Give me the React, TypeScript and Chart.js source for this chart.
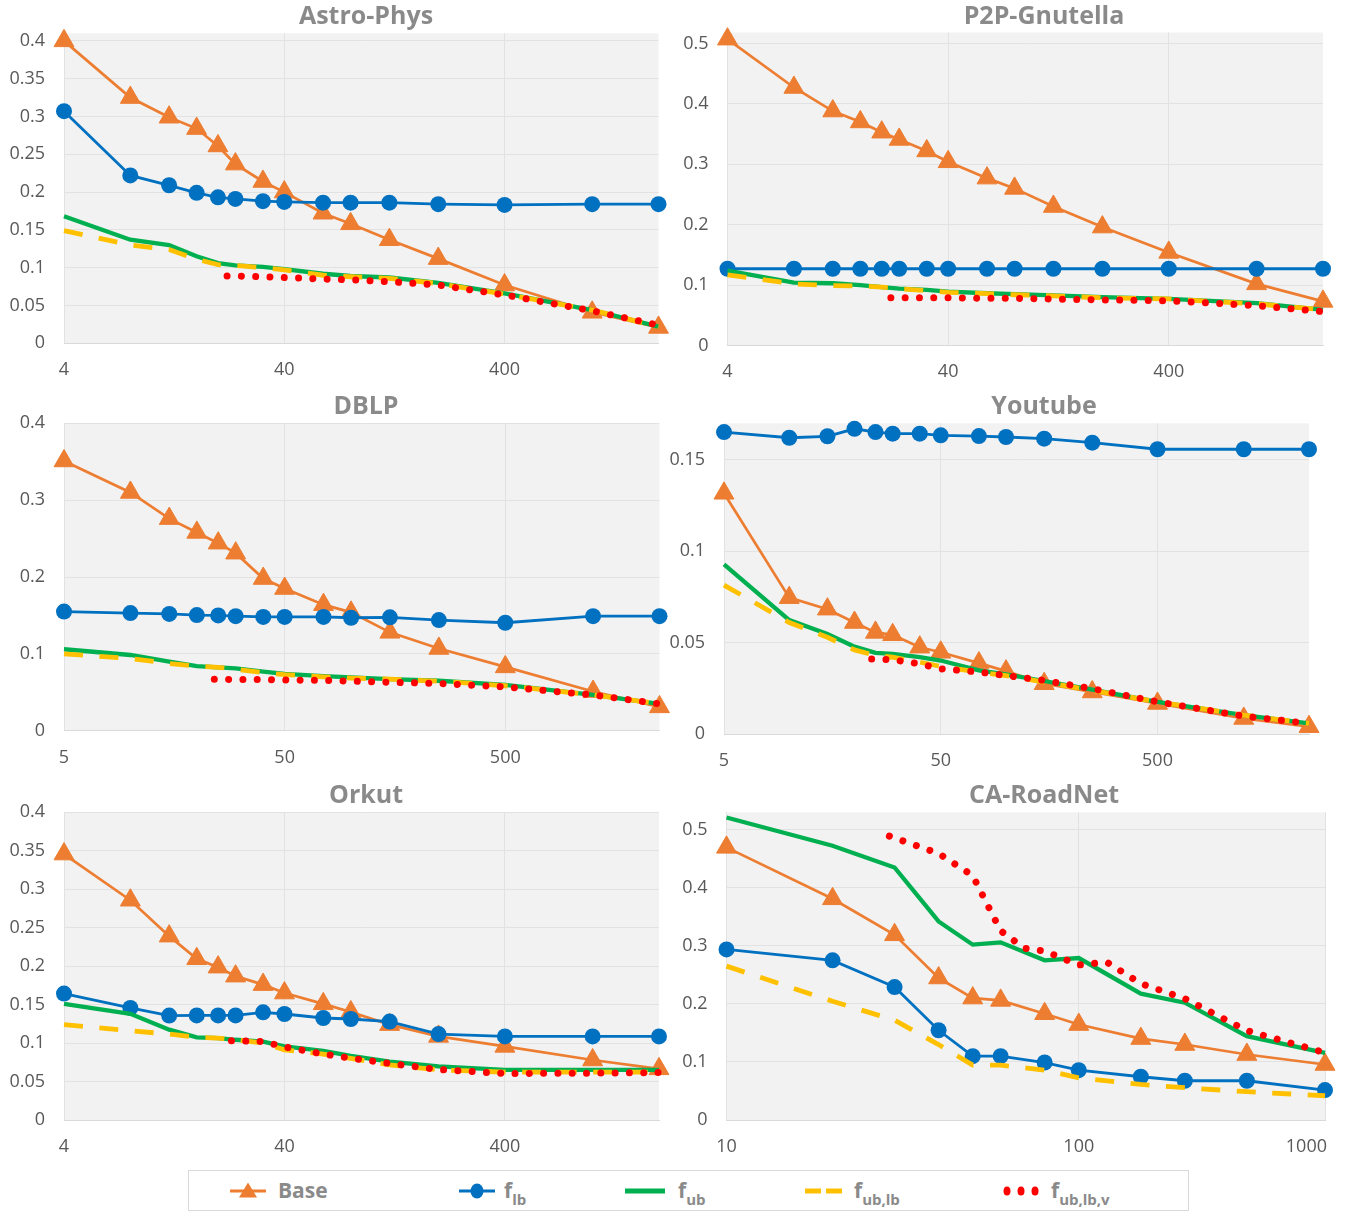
import React, { useEffect, useRef } from "react";
import { Chart, registerables } from "chart.js";

Chart.register(...registerables);

// ---------------- data ----------------
const X4 = [4, 8, 12, 16, 20, 24, 32, 40, 60, 80, 120, 200, 400, 1000, 2000];
const X5 = [5, 10, 15, 20, 25, 30, 40, 50, 75, 100, 150, 250, 500, 1250, 2500];
const X10 = [10, 20, 30, 40, 50, 60, 80, 100, 150, 200, 300, 500];

const X4_TICKS = [4, 40, 400];
const X4_TICK_LABELS = ["4", "40", "400"];
const X5_TICKS = [5, 50, 500];
const X5_TICK_LABELS = ["5", "50", "500"];
const X10_TICKS = [10, 100, 500];
const X10_TICK_LABELS = ["10", "100", "1000"];

const Y_TICKS_A = [0, 0.05, 0.1, 0.15, 0.2, 0.25, 0.3, 0.35, 0.4];
const Y_TICKS_B = [0, 0.1, 0.2, 0.3, 0.4, 0.5];
const Y_TICKS_C = [0, 0.1, 0.2, 0.3, 0.4];
const Y_TICKS_D = [0, 0.05, 0.1, 0.15];

// Astro-Phys
const ASTRO_BASE = [0.4, 0.325, 0.299, 0.284, 0.261, 0.237, 0.214, 0.2, 0.172, 0.158, 0.137, 0.112, 0.077, 0.041, 0.021];
const ASTRO_LB = [0.307, 0.222, 0.209, 0.199, 0.193, 0.191, 0.188, 0.187, 0.186, 0.186, 0.186, 0.184, 0.183, 0.184, 0.184];
const ASTRO_UB = [0.168, 0.137, 0.13, 0.115, 0.106, 0.103, 0.101, 0.098, 0.092, 0.089, 0.087, 0.08, 0.066, 0.044, 0.022];
const ASTRO_UBLB = [0.149, 0.13, 0.124, 0.111, 0.104, 0.103, 0.1, 0.097, 0.09, 0.088, 0.086, 0.079, 0.065, 0.044, 0.022];
const ASTRO_V_X = [22, 24, 32, 40, 60, 80, 120, 200, 400, 1000, 2000];
const ASTRO_V = [0.089, 0.089, 0.088, 0.087, 0.085, 0.084, 0.0815, 0.077, 0.064, 0.043, 0.024];

// P2P-Gnutella
const P2P_BASE = [0.507, 0.427, 0.388, 0.37, 0.353, 0.341, 0.322, 0.304, 0.277, 0.26, 0.23, 0.196, 0.154, 0.102, 0.073];
const P2P_LB = [0.127, 0.127, 0.127, 0.127, 0.127, 0.127, 0.127, 0.127, 0.127, 0.127, 0.127, 0.127, 0.127, 0.127, 0.127];
const P2P_UB = [0.124, 0.104, 0.103, 0.1, 0.0965, 0.094, 0.092, 0.089, 0.0865, 0.085, 0.083, 0.08, 0.077, 0.07, 0.059];
const P2P_UBLB = [0.117, 0.102, 0.099, 0.0985, 0.0965, 0.094, 0.091, 0.088, 0.086, 0.084, 0.082, 0.079, 0.077, 0.069, 0.059];
const P2P_V_X = [22, 24, 32, 40, 60, 80, 120, 200, 400, 1000, 2000];
const P2P_V = [0.079, 0.079, 0.079, 0.079, 0.078, 0.078, 0.077, 0.0755, 0.074, 0.066, 0.056];

// DBLP
const DBLP_BASE = [0.351, 0.31, 0.276, 0.258, 0.244, 0.231, 0.198, 0.185, 0.164, 0.154, 0.128, 0.107, 0.083, 0.051, 0.031];
const DBLP_LB = [0.155, 0.153, 0.152, 0.1505, 0.15, 0.149, 0.148, 0.148, 0.148, 0.147, 0.1475, 0.144, 0.1405, 0.149, 0.149];
const DBLP_UB = [0.106, 0.0985, 0.09, 0.084, 0.0825, 0.081, 0.077, 0.074, 0.071, 0.0695, 0.067, 0.065, 0.0595, 0.0465, 0.035];
const DBLP_UBLB = [0.1, 0.094, 0.0875, 0.084, 0.0825, 0.08, 0.0755, 0.073, 0.07, 0.0685, 0.067, 0.0645, 0.0585, 0.0465, 0.035];
const DBLP_V_X = [24, 25, 30, 40, 50, 75, 100, 150, 250, 500, 1250, 2500];
const DBLP_V = [0.0668, 0.0668, 0.0667, 0.0665, 0.066, 0.0655, 0.0645, 0.063, 0.0615, 0.057, 0.0465, 0.035];

// Youtube
const YT_BASE = [0.1317, 0.0746, 0.0683, 0.061, 0.0556, 0.0543, 0.0475, 0.0447, 0.0388, 0.0344, 0.0275, 0.023, 0.0167, 0.0085, 0.004];
const YT_LB = [0.1652, 0.1621, 0.1629, 0.167, 0.1652, 0.1643, 0.1643, 0.1634, 0.163, 0.1625, 0.1616, 0.1594, 0.1558, 0.1558, 0.1558];
const YT_UB = [0.0928, 0.0623, 0.0547, 0.0478, 0.0444, 0.0438, 0.042, 0.0402, 0.0348, 0.0326, 0.029, 0.0243, 0.0176, 0.0103, 0.0058];
const YT_UBLB = [0.0815, 0.061, 0.0529, 0.046, 0.043, 0.042, 0.0393, 0.037, 0.0339, 0.0319, 0.0284, 0.0239, 0.0176, 0.0103, 0.0058];
const YT_V_X = [24, 25, 30, 40, 50, 75, 100, 150, 250, 500, 1250, 2500];
const YT_V = [0.0411, 0.0411, 0.0406, 0.0384, 0.0357, 0.0339, 0.032, 0.0293, 0.0248, 0.0176, 0.0098, 0.0058];

// Orkut
const ORKUT_BASE = [0.3457, 0.2857, 0.239, 0.2096, 0.1987, 0.187, 0.176, 0.165, 0.151, 0.1404, 0.124, 0.1087, 0.0957, 0.078, 0.0665];
const ORKUT_LB = [0.1643, 0.1457, 0.1357, 0.136, 0.136, 0.136, 0.14, 0.1378, 0.1326, 0.1313, 0.128, 0.1117, 0.1087, 0.1087, 0.1087];
const ORKUT_UB = [0.151, 0.138, 0.1174, 0.1074, 0.1065, 0.1043, 0.102, 0.0957, 0.09, 0.0835, 0.076, 0.0696, 0.0652, 0.0652, 0.0652];
const ORKUT_UBLB = [0.124, 0.116, 0.1117, 0.1074, 0.1065, 0.1043, 0.1, 0.0913, 0.0857, 0.08, 0.0717, 0.0652, 0.0622, 0.0622, 0.0622];
const ORKUT_V_X = [23, 24, 32, 40, 60, 80, 120, 200, 400, 1000, 2000];
const ORKUT_V = [0.103, 0.103, 0.102, 0.095, 0.0857, 0.0804, 0.0735, 0.0656, 0.0604, 0.0609, 0.0617];

// CA-RoadNet
const CA_BASE = [0.4696, 0.381, 0.319, 0.2446, 0.21, 0.206, 0.183, 0.1644, 0.1403, 0.13, 0.1128, 0.0956];
const CA_LB = [0.2938, 0.275, 0.229, 0.1546, 0.11, 0.11, 0.099, 0.0859, 0.0745, 0.0676, 0.0676, 0.0515];
const CA_UB = [0.521, 0.4725, 0.435, 0.342, 0.302, 0.306, 0.275, 0.279, 0.2176, 0.202, 0.1443, 0.1157];
const CA_UBLB = [0.265, 0.2045, 0.172, 0.13, 0.0945, 0.0945, 0.0859, 0.0727, 0.0613, 0.0556, 0.0487, 0.0418];
const CA_V_X = [29, 40, 50, 60, 70, 80, 100, 120, 150, 200, 300, 500];
const CA_V = [0.489, 0.459, 0.421, 0.326, 0.296, 0.291, 0.267, 0.272, 0.235, 0.209, 0.154, 0.116];

// ---------------- styles ----------------
const ORANGE = "#ed7d31";
const BLUE = "#0070c0";
const GREEN = "#00b050";
const YELLOW = "#ffc000";
const RED = "#ff0000";
const PLOT_BG = "#f2f2f2";
const GRID = "#e2e2e2";
const AXIS = "#d9d9d9";
const TICK_COLOR = "#595959";
const TITLE_COLOR = "#8a8a8a";
const FONT = "'Open Sans', 'DejaVu Sans', sans-serif";
const TICK_SIZE = 18;
const X_AXIS_H = 40;
const X_TICK_PAD = 16;

type Panel = {
  title: string;
  titleX: number;
  box: { x: number; y: number; w: number; h: number };
  area: { l: number; t: number; r: number; b: number };
  xs: number[];
  xMin: number;
  xMax: number;
  xTicks: number[];
  xTickLabels: string[];
  lastLabelInside?: boolean;
  yMax: number;
  yTicks: number[];
  base: number[];
  lb: number[];
  ub: number[];
  ublb: number[];
  vX: number[];
  v: number[];
};

const PANELS: Panel[] = [
  {
    title: "Astro-Phys", titleX: 366,
    box: { x: 0, y: 0, w: 672, h: 388 }, area: { l: 64, t: 33.3, r: 658.5, b: 343.3 },
    xs: X4, xMin: 4, xMax: 2000, xTicks: X4_TICKS, xTickLabels: X4_TICK_LABELS,
    yMax: 0.41, yTicks: Y_TICKS_A,
    base: ASTRO_BASE, lb: ASTRO_LB, ub: ASTRO_UB, ublb: ASTRO_UBLB, vX: ASTRO_V_X, v: ASTRO_V,
  },
  {
    title: "P2P-Gnutella", titleX: 1044,
    box: { x: 640, y: 0, w: 707, h: 388 }, area: { l: 727.5, t: 32.5, r: 1323, b: 345.5 },
    xs: X4, xMin: 4, xMax: 2000, xTicks: X4_TICKS, xTickLabels: X4_TICK_LABELS,
    yMax: 0.518, yTicks: Y_TICKS_B,
    base: P2P_BASE, lb: P2P_LB, ub: P2P_UB, ublb: P2P_UBLB, vX: P2P_V_X, v: P2P_V,
  },
  {
    title: "DBLP", titleX: 366,
    box: { x: 0, y: 388, w: 672, h: 388 }, area: { l: 64, t: 423.3, r: 664, b: 730.7 },
    xs: X5, xMin: 5, xMax: 2500, xTicks: X5_TICKS, xTickLabels: X5_TICK_LABELS,
    yMax: 0.4, yTicks: Y_TICKS_C,
    base: DBLP_BASE, lb: DBLP_LB, ub: DBLP_UB, ublb: DBLP_UBLB, vX: DBLP_V_X, v: DBLP_V,
  },
  {
    title: "Youtube", titleX: 1044,
    box: { x: 640, y: 388, w: 707, h: 388 }, area: { l: 724, t: 423.3, r: 1309, b: 734 },
    xs: X5, xMin: 5, xMax: 2500, xTicks: X5_TICKS, xTickLabels: X5_TICK_LABELS,
    yMax: 0.17, yTicks: Y_TICKS_D,
    base: YT_BASE, lb: YT_LB, ub: YT_UB, ublb: YT_UBLB, vX: YT_V_X, v: YT_V,
  },
  {
    title: "Orkut", titleX: 366,
    box: { x: 0, y: 776, w: 672, h: 390 }, area: { l: 64, t: 812.3, r: 659, b: 1120 },
    xs: X4, xMin: 4, xMax: 2000, xTicks: X4_TICKS, xTickLabels: X4_TICK_LABELS,
    yMax: 0.4, yTicks: Y_TICKS_A,
    base: ORKUT_BASE, lb: ORKUT_LB, ub: ORKUT_UB, ublb: ORKUT_UBLB, vX: ORKUT_V_X, v: ORKUT_V,
  },
  {
    title: "CA-RoadNet", titleX: 1044,
    box: { x: 640, y: 776, w: 707, h: 390 }, area: { l: 726.5, t: 812.3, r: 1325, b: 1120 },
    xs: X10, xMin: 10, xMax: 500, xTicks: X10_TICKS, xTickLabels: X10_TICK_LABELS, lastLabelInside: true,
    yMax: 0.53, yTicks: Y_TICKS_B,
    base: CA_BASE, lb: CA_LB, ub: CA_UB, ublb: CA_UBLB, vX: CA_V_X, v: CA_V,
  },
];

const pts = (xs: number[], ys: number[]) => xs.map((x, i) => ({ x, y: ys[i] }));

const bgPlugin = {
  id: "plotBg",
  beforeDraw(chart: any) {
    const { ctx, chartArea: a } = chart;
    ctx.save();
    ctx.fillStyle = PLOT_BG;
    ctx.fillRect(a.left, a.top, a.right - a.left, a.bottom - a.top);
    ctx.restore();
  },
};

function makeTextPlugin(p: Panel) {
  return {
    id: "panelText",
    afterDraw(chart: any) {
      const { ctx, chartArea: a } = chart;
      ctx.save();
      ctx.font = `bold 25px ${FONT}`;
      ctx.fillStyle = TITLE_COLOR;
      ctx.textAlign = "center";
      ctx.textBaseline = "middle";
      ctx.fillText(p.title, p.titleX - p.box.x, a.top - 16);
      if (p.lastLabelInside) {
        const xs = chart.scales.x;
        const last = p.xTicks.length - 1;
        ctx.font = `${TICK_SIZE}px ${FONT}`;
        ctx.fillStyle = TICK_COLOR;
        ctx.textAlign = "right";
        ctx.fillText(p.xTickLabels[last], xs.getPixelForValue(p.xTicks[last]) + 2, a.bottom + X_TICK_PAD + (TICK_SIZE * 1.2) / 2);
      }
      ctx.restore();
    },
  };
}

function makeConfig(p: Panel): any {
  const yW = p.area.l - p.box.x;
  const padR = p.box.x + p.box.w - p.area.r;
  const padT = p.area.t - p.box.y;
  const padB = p.box.y + p.box.h - p.area.b - X_AXIS_H;
  const tickFont = { family: FONT, size: TICK_SIZE };
  return {
    type: "line",
    data: {
      datasets: [
        {
          label: "Base", data: pts(p.xs, p.base), order: 5,
          borderColor: ORANGE, backgroundColor: ORANGE, borderWidth: 2.7,
          pointStyle: "triangle", pointRadius: 11.5, pointBorderWidth: 1, pointBorderColor: ORANGE,
        },
        {
          label: "f_lb", data: pts(p.xs, p.lb), order: 4,
          borderColor: BLUE, backgroundColor: BLUE, borderWidth: 2.8,
          pointStyle: "circle", pointRadius: 8, pointBorderWidth: 0,
        },
        {
          label: "f_ub", data: pts(p.xs, p.ub), order: 3,
          borderColor: GREEN, backgroundColor: GREEN, borderWidth: 4.3, pointRadius: 0,
        },
        {
          label: "f_ub,lb", data: pts(p.xs, p.ublb), order: 2,
          borderColor: YELLOW, backgroundColor: YELLOW, borderWidth: 4.8, pointRadius: 0,
          borderDash: [19, 16.5],
        },
        {
          label: "f_ub,lb,v", data: pts(p.vX, p.v), order: 1,
          borderColor: RED, backgroundColor: RED, borderWidth: 7, pointRadius: 0,
          borderDash: [0.001, 14.3], borderCapStyle: "round",
        },
      ],
    },
    options: {
      responsive: false,
      animation: false,
      events: [],
      layout: { padding: { left: 0, right: padR, top: padT, bottom: padB } },
      elements: { line: { tension: 0 } },
      datasets: { line: { clip: false } },
      plugins: { legend: { display: false }, tooltip: { enabled: false }, title: { display: false } },
      scales: {
        x: {
          type: "logarithmic",
          min: p.xMin,
          max: p.xMax,
          afterBuildTicks: (s: any) => { s.ticks = p.xTicks.map((v) => ({ value: v })); },
          afterFit: (s: any) => { s.height = X_AXIS_H; },
          ticks: {
            padding: X_TICK_PAD, font: tickFont, color: TICK_COLOR, maxRotation: 0, autoSkip: false,
            callback: (_v: any, i: number) =>
              p.lastLabelInside && i === p.xTicks.length - 1 ? "" : p.xTickLabels[i],
          },
          grid: { color: GRID, lineWidth: 1, drawTicks: false },
          border: { display: true, color: AXIS, width: 1 },
        },
        y: {
          type: "linear",
          min: 0,
          max: p.yMax,
          afterBuildTicks: (s: any) => { s.ticks = p.yTicks.map((v) => ({ value: v })); },
          afterFit: (s: any) => { s.width = yW; },
          ticks: {
            padding: 19, font: tickFont, color: TICK_COLOR, autoSkip: false,
            callback: (v: any) => String(v),
          },
          grid: { color: GRID, lineWidth: 1, drawTicks: false },
          border: { display: false },
        },
      },
    },
    plugins: [bgPlugin, makeTextPlugin(p)],
  };
}

function PanelChart({ p }: { p: Panel }) {
  const ref = useRef<HTMLCanvasElement | null>(null);
  useEffect(() => {
    if (!ref.current) return;
    const chart = new Chart(ref.current, makeConfig(p));
    return () => chart.destroy();
  }, [p]);
  return (
    <canvas
      ref={ref}
      width={p.box.w}
      height={p.box.h}
      style={{ position: "absolute", left: p.box.x, top: p.box.y, width: p.box.w, height: p.box.h }}
    />
  );
}

// ---------------- legend ----------------
const LEGEND_TEXT: React.CSSProperties = {
  position: "absolute",
  top: 7,
  fontFamily: FONT,
  fontSize: 21,
  fontWeight: 700,
  lineHeight: "24px",
  color: TITLE_COLOR,
  whiteSpace: "nowrap",
};
const SUB: React.CSSProperties = { fontSize: 15, position: "relative", top: 7 };

function Swatch({ left, kind }: { left: number; kind: string }) {
  return (
    <svg width={42} height={24} style={{ position: "absolute", left, top: 8 }}>
      {kind === "base" && (
        <g>
          <line x1={1} y1={12} x2={37} y2={12} stroke={ORANGE} strokeWidth={3} />
          <polygon points="19,3.5 28,18.5 10,18.5" fill={ORANGE} />
        </g>
      )}
      {kind === "lb" && (
        <g>
          <line x1={1} y1={12} x2={37} y2={12} stroke={BLUE} strokeWidth={3} />
          <ellipse cx={19} cy={12} rx={6.5} ry={7.5} fill={BLUE} />
        </g>
      )}
      {kind === "ub" && <line x1={1} y1={12} x2={41} y2={12} stroke={GREEN} strokeWidth={5} />}
      {kind === "ublb" && (
        <g>
          <line x1={1} y1={12} x2={17} y2={12} stroke={YELLOW} strokeWidth={5} />
          <line x1={22} y1={12} x2={38} y2={12} stroke={YELLOW} strokeWidth={5} />
        </g>
      )}
      {kind === "v" && (
        <g>
          <ellipse cx={5} cy={12} rx={3.5} ry={4.5} fill={RED} />
          <ellipse cx={19} cy={12} rx={3.5} ry={4.5} fill={RED} />
          <ellipse cx={33} cy={12} rx={3.5} ry={4.5} fill={RED} />
        </g>
      )}
    </svg>
  );
}

function Legend() {
  const L = 188;
  return (
    <div
      style={{
        position: "absolute",
        left: L,
        top: 1170,
        width: 1001,
        height: 41,
        border: "1px solid #d9d9d9",
        boxSizing: "border-box",
        background: "#ffffff",
      }}
    >
      <Swatch left={228 - L} kind="base" />
      <span style={{ ...LEGEND_TEXT, left: 277 - L }}>Base</span>
      <Swatch left={457 - L} kind="lb" />
      <span style={{ ...LEGEND_TEXT, left: 503 - L }}>f<span style={SUB}>lb</span></span>
      <Swatch left={623 - L} kind="ub" />
      <span style={{ ...LEGEND_TEXT, left: 677 - L }}>f<span style={SUB}>ub</span></span>
      <Swatch left={803 - L} kind="ublb" />
      <span style={{ ...LEGEND_TEXT, left: 853 - L }}>f<span style={SUB}>ub,lb</span></span>
      <Swatch left={1001 - L} kind="v" />
      <span style={{ ...LEGEND_TEXT, left: 1050 - L }}>f<span style={SUB}>ub,lb,v</span></span>
    </div>
  );
}

export default function App() {
  return (
    <div
      style={{
        position: "absolute",
        left: 0,
        top: 0,
        width: 1347,
        height: 1213,
        overflow: "hidden",
        background: "#ffffff",
      }}
    >
      {PANELS.map((p) => (
        <PanelChart key={p.title} p={p} />
      ))}
      <Legend />
    </div>
  );
}
